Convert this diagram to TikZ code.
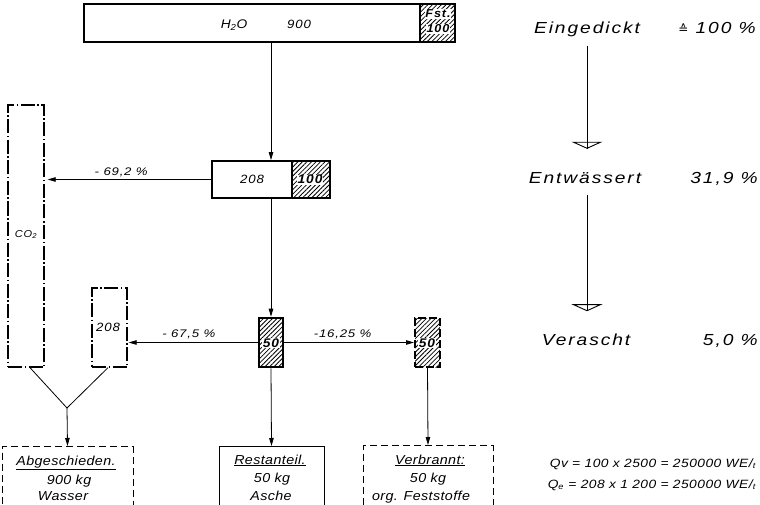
\documentclass[tikz,border=0pt]{standalone}
\usepackage{fontspec}
\setmainfont{Liberation Sans}
\newfontfamily\fa[FakeStretch=1.2,LetterSpace=12]{Liberation Sans}
\newfontfamily\fb[FakeStretch=1.1,LetterSpace=3]{Liberation Sans}
\newfontfamily\fc[FakeStretch=1.2,LetterSpace=7]{Liberation Sans}
\newfontfamily\fd[FakeStretch=1.15,LetterSpace=4]{Liberation Sans}
\newfontfamily\fe[FakeStretch=1.1,LetterSpace=8]{Liberation Sans}
\newfontfamily\djv{DejaVu Sans}
\usetikzlibrary{arrows.meta,patterns.meta}
\begin{document}
\begin{tikzpicture}[x=1pt,y=-1pt,
  arr/.style={draw, line width=0.8pt, -{Triangle[length=8pt,width=4.5pt]}},
  flow/.style={draw, line width=0.9pt},
  flowtip/.style={draw, line width=0.9pt, -{Triangle[open,length=7pt,width=31pt,line width=0.9pt]}},
  box/.style={draw, rectangle, inner sep=0pt, fill=white},
  hatchbox/.style={draw, rectangle, inner sep=0pt, pattern={Lines[angle=45,distance=3.2pt,line width=0.8pt]}},
  ddot/.style={draw, rectangle, inner sep=0pt, line width=1.3pt, dash pattern=on 14pt off 2.5pt on 1.5pt off 2.5pt},
  dbox/.style={draw, rectangle, inner sep=0pt, line width=1pt, dash pattern=on 7pt off 4pt},
  sbox/.style={draw, rectangle, inner sep=0pt, line width=1pt},
  big/.style={font=\fa\itshape\fontsize{16}{19}\selectfont, inner sep=0pt, anchor=base},
  btxt/.style={font=\fb\itshape\fontsize{13}{15}\selectfont, inner sep=0pt, anchor=base},
  lbl/.style={font=\fc\itshape\fontsize{11}{13}\selectfont, inner sep=1pt},
  fml/.style={font=\fd\itshape\fontsize{12}{14}\selectfont, inner sep=0pt, anchor=base east},
  num/.style={font=\fe\itshape\fontsize{12}{14}\selectfont, inner sep=0pt, anchor=base},
  numw/.style={font=\fe\itshape\bfseries\fontsize{12.5}{14}\selectfont, inner sep=0.6pt, fill=white, anchor=base}
]
\useasboundingbox (0,0) rectangle (760,505);
\clip (0,0) rectangle (760,505);

% top bar
\node[box, minimum width=371pt, minimum height=38pt, line width=1.6pt] (top) at (269.5,23) {};
\node[hatchbox, minimum width=35pt, minimum height=38pt, line width=2pt] (topf) at (437.5,23) {};
\node[num, font=\fb\itshape\fontsize{12.5}{14}\selectfont] (h2o) at (234,29) {H\textsubscript{2}O};
\node[num] (n900) at (299,29) {900};
\node[numw, font=\fe\itshape\bfseries\fontsize{11.5}{12}\selectfont] (fst) at (438,18) {Fst.};
\node[numw, font=\fe\itshape\bfseries\fontsize{11.5}{12}\selectfont] (f100) at (438,33) {100};

% 208 / 100 box
\node[box, minimum width=118pt, minimum height=37pt, line width=1.8pt] (b208) at (271,179.5) {};
\node[hatchbox, minimum width=38pt, minimum height=37pt, line width=1.8pt] (b100) at (311,179.5) {};
\node[num] (t208) at (252,184) {208};
\node[numw] (t100) at (310,184) {100};

% CO2 box
\node[ddot, minimum width=36pt, minimum height=262pt] (co2) at (26,236) {};
\node[lbl, font=\fe\itshape\fontsize{10}{11}\selectfont, anchor=base, inner sep=0pt] (tco2) at (26,237) {CO\textsubscript{2}};

% dashed 208 box
\node[ddot, minimum width=35pt, minimum height=79pt] (b208d) at (109.5,327.5) {};
\node[num] (t208d) at (108,331) {208};

% 50 boxes
\node[hatchbox, minimum width=24pt, minimum height=49pt, line width=2.6pt] (b50) at (271,342.5) {};
\node[numw] (t50) at (271,347) {50};
\node[hatchbox, minimum width=25pt, minimum height=49pt, line width=2pt, dash pattern=on 8pt off 3pt] (rb50) at (427.5,342.5) {};
\node[numw] (t50r) at (427,347) {50};

% bottom boxes
\node[dbox, minimum width=131pt, minimum height=84pt, anchor=north] (abg) at (67.5,446) {};
\node[sbox, minimum width=105pt, minimum height=84pt, anchor=north] (rest) at (271.5,446) {};
\node[dbox, minimum width=130pt, minimum height=84pt, anchor=north] (verb) at (428,445) {};

\node[btxt] (a1) at (66,465) {\underline{Abgeschieden.}};
\node[btxt] (a2) at (69,484) {900 kg};
\node[btxt] (a3) at (63,500) {Wasser};
\node[btxt] (r1) at (270,464) {\underline{Restanteil.}};
\node[btxt] (r2) at (272,482) {50 kg};
\node[btxt] (r3) at (271,500) {Asche};
\node[btxt] (v1) at (430,464) {\underline{Verbrannt:}};
\node[btxt] (v2) at (428,482) {50 kg};
\node[btxt] (v3) at (421,500) {org. Feststoffe};

% connectors
\draw[arr] (top.south -| b208.north) -- (b208.north);
\draw[arr, shorten >=3pt] (b208.west) -- (b208.west -| co2.east)
  node[lbl, above=1pt, pos=0.54] (l1) {- 69,2 \%};
\draw[arr] (b208.south) -- (b50.north);
\draw[arr, shorten >=1pt] (b50.west) -- (b50.west -| b208d.east)
  node[lbl, above=2pt, pos=0.53] (l2) {- 67,5 \%};
\draw[arr] (b50.east) -- (rb50.west)
  node[lbl, above=2pt, pos=0.45] (l3) {-16,25 \%};
\coordinate (vj) at (67,408);
\draw[line width=0.8pt] ([xshift=4pt]co2.south) -- (vj) -- ([xshift=-1.5pt]b208d.south);
\draw[arr] (vj) -- (abg.north);
\draw[arr] (b50.south) -- (rest.north);
\draw[arr] (rb50.south) -- (verb.north);

% right column
\node[big] (ein) at (587,34) {Eingedickt};
\node[big] (ent) at (585,184) {Entwässert};
\node[big] (ver) at (586,345) {Verascht};
\node[big, anchor=base east] (p1) at (756,34) {{\djv\upshape\fontsize{12}{14}\selectfont ≙} 100 \%};
\node[big, anchor=base east] (p2) at (758,184) {31,9 \%};
\node[big, anchor=base east] (p3) at (758,345) {5,0 \%};
\draw[flow, shorten <=8pt, shorten >=24pt] (ein.south -| 587,0) -- (ent.north -| 587,0);
\draw[flowtip, shorten <=8pt, shorten >=24pt] (ein.south -| 587,0) -- (ent.north -| 587,0);
\draw[flow, shorten <=11pt, shorten >=22pt] (ent.south -| 587,0) -- (ver.north -| 587,0);
\draw[flowtip, shorten <=11pt, shorten >=22pt] (ent.south -| 587,0) -- (ver.north -| 587,0);

% formulas
\node[fml] (q1) at (756,467) {Qv = 100 x 2500 = 250000 WE/\textsubscript{t}};
\node[fml] (q2) at (756,488) {Q\textsubscript{e} = 208 x 1 200 = 250000 WE/\textsubscript{t}};
\end{tikzpicture}
\end{document}
